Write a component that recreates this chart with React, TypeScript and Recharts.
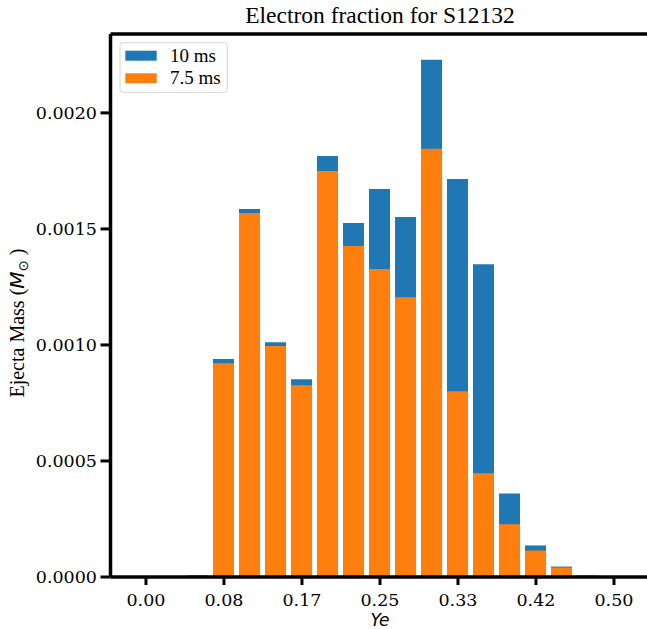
import { Bar, BarChart, ReferenceLine, XAxis, YAxis } from "recharts";

// Bin centres in Ye (width 1/36) and ejecta mass (M_sun) per bin.
const YE = [
  0.0556, 0.0833, 0.1111, 0.1389, 0.1667, 0.1944, 0.2222, 0.25, 0.2778, 0.3056,
  0.3333, 0.3611, 0.3889, 0.4167, 0.4444, 0.4722,
];
const MASS_10MS = [
  0.000006, 0.000939, 0.001586, 0.001012, 0.000852, 0.001814, 0.001525,
  0.001672, 0.001551, 0.002229, 0.001715, 0.001348, 0.00036, 0.000136,
  0.000045, 0.0000065,
];
const MASS_7_5MS = [
  0.000006, 0.000921, 0.001569, 0.000995, 0.000826, 0.00175, 0.001426,
  0.001327, 0.001206, 0.001845, 0.0008, 0.000447, 0.000227, 0.000114, 0.000041,
  0,
];
const X_TICKS = [0, 1 / 12, 2 / 12, 3 / 12, 4 / 12, 5 / 12, 0.5];
const Y_TICKS = [0, 0.0005, 0.001, 0.0015, 0.002];

const X_DOMAIN: [number, number] = [-0.0379, 0.5372];
const Y_MAX = 0.00234;

const SERIES = [
  { key: "m10", label: "10 ms", color: "#1f77b4" },
  { key: "m75", label: "7.5 ms", color: "#ff7f0e" },
];

const data = YE.map((ye, i) => ({
  ye,
  m10: MASS_10MS[i],
  m75: MASS_7_5MS[i],
}));

const W = 647;
const H = 629;
// the axes box runs a couple of pixels past the right edge of the image
const CHART_W = 652;
const tickFont = { fontFamily: "DejaVu Serif", fontSize: 17.5, fill: "#000" };
const textFont = "Liberation Serif";

export default function App() {
  return (
    <div
      style={{
        position: "absolute",
        left: 0,
        top: 0,
        width: W,
        height: H,
        overflow: "hidden",
        background: "#fff",
      }}
    >
      <BarChart
        width={CHART_W}
        height={H}
        data={data}
        margin={{ top: 34, right: 3.2, bottom: 0, left: 0 }}
        barSize={21}
        barGap={-21}
      >
        <XAxis
          dataKey="ye"
          type="number"
          domain={X_DOMAIN}
          allowDataOverflow
          ticks={X_TICKS}
          tickFormatter={(v: number) => v.toFixed(2)}
          height={52}
          tick={tickFont}
          tickSize={8}
          tickMargin={9}
          axisLine={{ stroke: "#000", strokeWidth: 3.5 }}
          tickLine={{ stroke: "#000", strokeWidth: 3 }}
        />
        <YAxis
          type="number"
          domain={[0, Y_MAX]}
          allowDataOverflow
          ticks={Y_TICKS}
          tickFormatter={(v: number) => v.toFixed(4)}
          width={110.5}
          tick={tickFont}
          tickSize={10}
          tickMargin={3.5}
          axisLine={{ stroke: "#000", strokeWidth: 3.5 }}
          tickLine={{ stroke: "#000", strokeWidth: 3 }}
        />
        <ReferenceLine y={Y_MAX} stroke="#000" strokeWidth={3.5} />
        {SERIES.map((s) => (
          <Bar key={s.key} dataKey={s.key} fill={s.color} isAnimationActive={false} />
        ))}
      </BarChart>

      <svg
        width={W}
        height={H}
        style={{ position: "absolute", left: 0, top: 0, pointerEvents: "none" }}
      >
        <text x={380} y={23} textAnchor="middle" fontFamily={textFont} fontSize={23.5}>
          Electron fraction for S12132
        </text>
        <text
          x={380}
          y={626}
          textAnchor="middle"
          fontFamily="DejaVu Sans"
          fontStyle="italic"
          fontSize={17}
        >
          Ye
        </text>
        <text
          transform="translate(24 323) rotate(-90)"
          textAnchor="middle"
          fontFamily={textFont}
          fontSize={20}
        >
          Ejecta Mass (
          <tspan fontFamily="DejaVu Sans" fontStyle="italic">M</tspan>
          <tspan fontFamily="DejaVu Sans" fontSize={13.5} dy={4}>⊙</tspan>
          <tspan dy={-4}> )</tspan>
        </text>

        <rect
          x={120}
          y={42.7}
          width={107.3}
          height={49.6}
          rx={3}
          fill="#fff"
          fillOpacity={0.8}
          stroke="#d6d6d6"
        />
        {SERIES.map((s, i) => (
          <g key={s.key}>
            <rect x={125.3} y={50.7 + i * 22.6} width={31.4} height={10} fill={s.color} />
            <text x={170} y={61.7 + i * 22.6} fontFamily={textFont} fontSize={19}>
              {s.label}
            </text>
          </g>
        ))}
      </svg>
    </div>
  );
}
